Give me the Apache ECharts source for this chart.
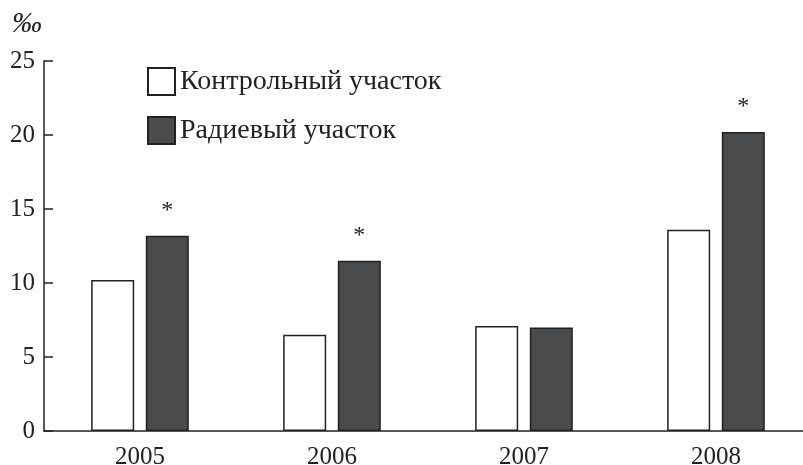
<!DOCTYPE html>
<html>
<head>
<meta charset="utf-8">
<script src="https://cdn.jsdelivr.net/npm/echarts@6/dist/echarts.min.js"></script>
<style>
  html, body { margin: 0; padding: 0; background: #fff; }
  #chart { width: 803px; height: 465px; }
</style>
</head>
<body>
<div id="chart"></div>
<script>
// данные с рисунка
var years = ['2005', '2006', '2007', '2008'];
var controlVals = [10.2, 6.5, 7.1, 13.6];
var radiumVals = [13.2, 11.5, 7.0, 20.2];
var significant = [true, true, false, true];
var yTicks = { min: 0, max: 25, step: 5 };

var serif = '"Liberation Serif", "DejaVu Serif", serif';

var myChart = echarts.init(document.getElementById('chart'));

var option = {
    animation: false,
    backgroundColor: '#fff',
    // ось X уходит за правый край картинки
    grid: { left: 44, top: 61, width: 768, height: 370, outerBoundsMode: 'none' },
    legend: {
        orient: 'vertical',
        left: 147,
        top: 67,
        padding: 0,
        itemWidth: 27,
        itemHeight: 27,
        itemGap: 20,
        icon: 'rect',
        textStyle: { fontFamily: serif, fontSize: 28, color: '#222' },
        data: ['Контрольный участок', 'Радиевый участок']
    },
    graphic: [{
        type: 'text',
        left: 12,
        top: 9,
        style: { text: '‰', font: 'italic 30px ' + serif, fill: '#222' }
    }],
    xAxis: {
        type: 'category',
        data: years,
        axisLine: { lineStyle: { color: '#222', width: 1.5 } },
        axisTick: { show: false },
        axisLabel: { fontFamily: serif, fontSize: 25, color: '#222', margin: 14 }
    },
    yAxis: {
        type: 'value',
        min: yTicks.min,
        max: yTicks.max,
        interval: yTicks.step,
        splitLine: { show: false },
        axisLine: { show: true, lineStyle: { color: '#222', width: 1.5 } },
        axisTick: { show: true, inside: true, length: 9, lineStyle: { color: '#222', width: 1.5 } },
        axisLabel: { fontFamily: serif, fontSize: 25, color: '#222', margin: 9 }
    },
    series: [
        {
            name: 'Контрольный участок',
            type: 'bar',
            data: controlVals,
            barWidth: 43,
            barGap: '27%',
            itemStyle: { color: '#fff', borderColor: '#222', borderWidth: 1.5 }
        },
        {
            name: 'Радиевый участок',
            type: 'bar',
            data: radiumVals,
            barWidth: 43,
            itemStyle: { color: '#4a4b4d', borderColor: '#222', borderWidth: 1.5 },
            label: {
                show: true,
                position: 'top',
                distance: 13,
                fontFamily: serif,
                fontSize: 24,
                color: '#222',
                formatter: function (p) {
                    return significant[p.dataIndex] ? '*' : '';
                }
            }
        }
    ]
};

myChart.setOption(option);
</script>
</body>
</html>
